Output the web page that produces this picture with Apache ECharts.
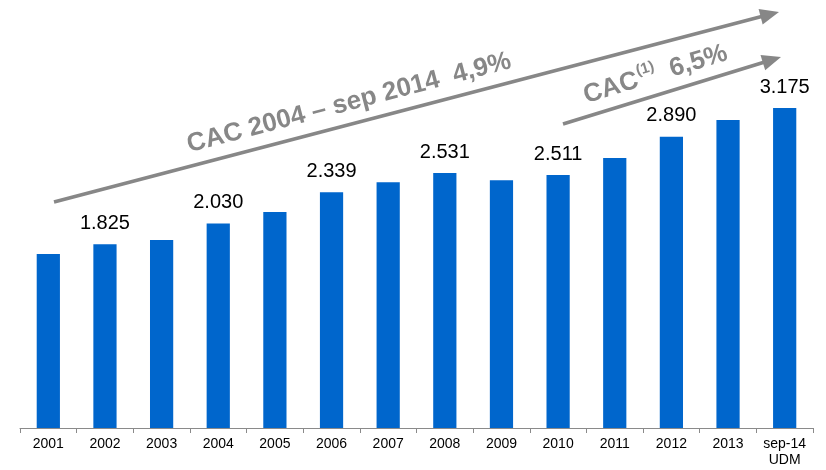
<!DOCTYPE html>
<html>
<head>
<meta charset="utf-8">
<script src="https://cdn.jsdelivr.net/npm/echarts@6/dist/echarts.min.js"></script>
<style>
  html, body { margin: 0; padding: 0; background: #fff; }
  #chart { width: 826px; height: 470px; }
</style>
</head>
<body>
<div id="chart"></div>
<script>
// categorias y valores (miles)
var years = ["2001", "2002", "2003", "2004", "2005", "2006", "2007",
             "2008", "2009", "2010", "2011", "2012", "2013", "sep-14\nUDM"];
var values = [1726, 1825, 1865, 2030, 2143, 2339, 2440, 2531, 2460, 2511, 2679, 2890, 3056, 3175];
// solo algunas barras llevan etiqueta
var labeled = [false, true, false, true, false, true, false, true, false, true, false, true, false, true];

var gray = "#878787";

function fmt(v) {
  return String(v).replace(/\B(?=(\d{3})+(?!\d))/g, ".");
}

// flecha: linea + punta triangular
function arrow(x1, y1, x2, y2) {
  var dx = x2 - x1, dy = y2 - y1;
  var len = Math.sqrt(dx * dx + dy * dy);
  var ux = dx / len, uy = dy / len;
  var head = 19, half = 8;
  var bx = x2 - ux * head, by = y2 - uy * head;
  return [
    {
      type: "line",
      shape: { x1: x1, y1: y1, x2: bx + ux * 2, y2: by + uy * 2 },
      style: { stroke: gray, lineWidth: 3.5 },
      z: 10
    },
    {
      type: "polygon",
      shape: { points: [[x2, y2], [bx - uy * half, by + ux * half], [bx + uy * half, by - ux * half]] },
      style: { fill: gray },
      z: 10
    }
  ];
}

var myChart = echarts.init(document.getElementById("chart"));

var barData = values.map(function (v, i) {
  return { value: v, label: { show: labeled[i] } };
});

var angle1 = Math.atan2(202 - 12, 779 - 54);
var angle2 = Math.atan2(124 - 57, 781 - 563);

var options = {
  animation: false,
  grid: { left: 20, right: 13, top: 25, bottom: 42 },
  xAxis: {
    type: "category",
    data: years,
    axisLine: { lineStyle: { color: "#8a8a8a", width: 1 } },
    axisTick: { show: true, length: 5, lineStyle: { color: "#8a8a8a" } },
    axisLabel: {
      color: "#000",
      fontFamily: "Liberation Sans",
      fontSize: 14,
      margin: 8,
      lineHeight: 16,
      interval: 0
    }
  },
  yAxis: {
    type: "value",
    min: 0,
    max: 4000,
    show: false,
    splitLine: { show: false }
  },
  series: [
    {
      type: "bar",
      data: barData,
      barCategoryGap: "59%",
      itemStyle: { color: "#0066CC" },
      label: {
        position: "top",
        distance: 11,
        color: "#000",
        fontFamily: "Liberation Sans",
        fontSize: 20,
        formatter: function (p) {
          return fmt(p.value);
        }
      }
    }
  ],
  graphic: [].concat(
    arrow(54, 202, 779, 12),
    arrow(563, 124, 781, 57),
    [
      {
        type: "text",
        x: 349,
        y: 103,
        rotation: angle1,
        z: 10,
        style: {
          text: "CAC 2004 \u2013 sep 2014  4,9%",
          fill: gray,
          font: "bold 26px 'Liberation Sans'",
          align: "center",
          verticalAlign: "middle"
        }
      },
      {
        type: "text",
        x: 655,
        y: 73,
        rotation: angle2,
        z: 10,
        style: {
          text: "{a|CAC}{s|(1)}{a|  6,5%}",
          align: "center",
          verticalAlign: "middle",
          rich: {
            a: { fill: gray, font: "bold 26px 'Liberation Sans'", lineHeight: 29, verticalAlign: "bottom" },
            s: { fill: gray, font: "bold 15px 'Liberation Sans'", lineHeight: 29, verticalAlign: "top", padding: [0, 0, 0, 1] }
          }
        }
      }
    ]
  )
};

myChart.setOption(options);
</script>
</body>
</html>
